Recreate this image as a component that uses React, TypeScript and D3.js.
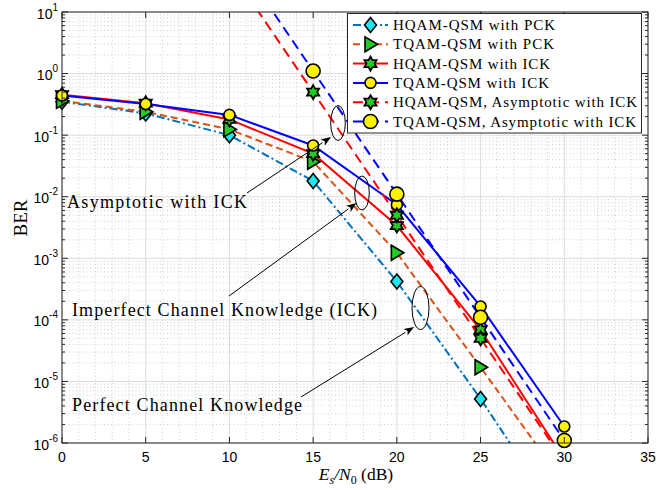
import React from 'react';
import * as d3 from 'd3';

// ---------- data ----------
const snrDb = [0, 5, 10, 15, 20, 25, 30];
const hqamPck = [0.35, 0.225, 0.1, 0.018, 4.2e-4, 5.2e-6, 4.7e-8];
const tqamPck = [0.36, 0.24, 0.124, 0.037, 1.23e-3, 1.7e-5, 2.2e-7];
const hqamIck = [0.455, 0.33, 0.18, 0.05, 3.4e-3, 6.9e-5, 5.4e-7];
const tqamIck = [0.44, 0.32, 0.213, 0.068, 7.4e-3, 1.65e-4, 1.85e-6];
const asymSnrDb = [10, 15, 20, 25, 30];
const hqamAsym = [50, 0.5, 5e-3, 5e-5, 5e-7];
const tqamAsym = [110, 1.1, 1.1e-2, 1.1e-4, 1.1e-6];

const xTicks = [0, 5, 10, 15, 20, 25, 30, 35];
const yExponents = [1, 0, -1, -2, -3, -4, -5, -6];
const legendLabels = [
  'HQAM-QSM with PCK',
  'TQAM-QSM with PCK',
  'HQAM-QSM with ICK',
  'TQAM-QSM with ICK',
  'HQAM-QSM, Asymptotic with ICK',
  'TQAM-QSM, Asymptotic with ICK',
];
const annotationLabels = [
  'Asymptotic with ICK',
  'Imperfect Channel Knowledge (ICK)',
  'Perfect Channel Knowledge',
];

// ---------- layout ----------
const W = 667;
const H = 490;
const PL = 62, PR = 648, PT = 12, PB = 443;
const CYAN = '#1ee6ef';
const GREEN = '#22cc22';
const YELLOW = '#fff200';
const AX = '#262626';
const SERIF = '"Liberation Serif", "Times New Roman", serif';
const SANS = '"Liberation Sans", Arial, Helvetica, sans-serif';

type MarkerType = 'diamond' | 'triR' | 'hex' | 'circle' | 'circleBig';

const series = [
  { xs: snrDb, ys: hqamPck, color: '#0072BD', dash: '8,3,2,3', marker: 'diamond' as MarkerType },
  { xs: snrDb, ys: tqamPck, color: '#D95319', dash: '7,4', marker: 'triR' as MarkerType },
  { xs: snrDb, ys: hqamIck, color: '#FF0000', dash: '', marker: 'hex' as MarkerType },
  { xs: snrDb, ys: tqamIck, color: '#0000FF', dash: '', marker: 'circle' as MarkerType },
  { xs: asymSnrDb, ys: hqamAsym, color: '#FF0000', dash: '10,6', marker: 'hex' as MarkerType },
  { xs: asymSnrDb, ys: tqamAsym, color: '#0000FF', dash: '10,6', marker: 'circleBig' as MarkerType },
];

function hexagramPath(cx: number, cy: number, R: number) {
  const pts: string[] = [];
  const r = R / Math.sqrt(3);
  for (let k = 0; k < 12; k++) {
    const a = -Math.PI / 2 + (k * Math.PI) / 6;
    const rr = k % 2 === 0 ? R : r;
    pts.push(`${cx + rr * Math.cos(a)},${cy + rr * Math.sin(a)}`);
  }
  return 'M' + pts.join('L') + 'Z';
}

function Marker({ type, cx, cy }: { type: MarkerType; cx: number; cy: number }) {
  const sw = 1.6;
  if (type === 'diamond') {
    return (
      <path
        d={`M${cx},${cy - 7.5}L${cx + 6},${cy}L${cx},${cy + 7.5}L${cx - 6},${cy}Z`}
        fill={CYAN}
        stroke="#000"
        strokeWidth={sw}
      />
    );
  }
  if (type === 'triR') {
    return (
      <path
        d={`M${cx + 7},${cy}L${cx - 5.5},${cy - 7.5}L${cx - 5.5},${cy + 7.5}Z`}
        fill={GREEN}
        stroke="#000"
        strokeWidth={sw}
        strokeLinejoin="miter"
      />
    );
  }
  if (type === 'hex') {
    return <path d={hexagramPath(cx, cy, 7)} fill={GREEN} stroke="#000" strokeWidth={1.8} />;
  }
  if (type === 'circle') {
    return <circle cx={cx} cy={cy} r={5.5} fill={YELLOW} stroke="#000" strokeWidth={sw} />;
  }
  return <circle cx={cx} cy={cy} r={7} fill={YELLOW} stroke="#000" strokeWidth={sw} />;
}

function Arrow({ x1, y1, x2, y2 }: { x1: number; y1: number; x2: number; y2: number }) {
  const dx = x2 - x1, dy = y2 - y1;
  const len = Math.hypot(dx, dy);
  const ux = dx / len, uy = dy / len;
  const hl = 10, hw = 3.8;
  const bx = x2 - ux * hl, by = y2 - uy * hl;
  const nx = -uy, ny = ux;
  return (
    <g>
      <line x1={x1} y1={y1} x2={bx} y2={by} stroke="#000" strokeWidth={1} />
      <path
        d={`M${x2},${y2}L${bx + nx * hw},${by + ny * hw}L${bx + ux * 2.5},${by + uy * 2.5}L${bx - nx * hw},${by - ny * hw}Z`}
        fill="#000"
      />
    </g>
  );
}

export default function App() {
  const x = d3.scaleLinear().domain([0, 35]).range([PL, PR]);
  const y = d3.scaleLog().domain([1e-6, 10]).range([PB, PT]);

  const line = (xs: number[], ys: number[]) =>
    d3
      .line<number>()
      .x((_, i) => x(xs[i]))
      .y((d) => y(d))(ys) || '';

  const minorX = d3.range(0, 36).filter((v) => v % 5 !== 0);
  const minorY: number[] = [];
  for (let e = -6; e < 1; e++) for (let m = 2; m <= 9; m++) minorY.push(m * Math.pow(10, e));

  const legendRowY = (i: number) => 25 + i * 19.3;

  return (
    <svg
      width={W}
      height={H}
      style={{ position: 'absolute', left: 0, top: 0, background: '#fff' }}
    >
      <defs>
        <clipPath id="plotClip">
          <rect x={PL} y={PT} width={PR - PL} height={PB - PT} />
        </clipPath>
      </defs>
      <rect x={0} y={0} width={W} height={H} fill="#fff" />

      {/* minor grid */}
      <g stroke="#c4c4c4" strokeWidth={0.8} strokeDasharray="1,2.5">
        {minorX.map((v) => (
          <line key={'mx' + v} x1={x(v)} x2={x(v)} y1={PT} y2={PB} />
        ))}
        {minorY.map((v, i) => (
          <line key={'my' + i} x1={PL} x2={PR} y1={y(v)} y2={y(v)} />
        ))}
      </g>
      {/* major grid */}
      <g stroke="#dcdcdc" strokeWidth={1}>
        {xTicks.map((v) => (
          <line key={'gx' + v} x1={x(v)} x2={x(v)} y1={PT} y2={PB} />
        ))}
        {yExponents.map((e) => (
          <line key={'gy' + e} x1={PL} x2={PR} y1={y(Math.pow(10, e))} y2={y(Math.pow(10, e))} />
        ))}
      </g>

      {/* series lines */}
      <g clipPath="url(#plotClip)" fill="none">
        {series.map((s, i) => (
          <path
            key={'l' + i}
            d={line(s.xs, s.ys)}
            stroke={s.color}
            strokeWidth={2}
            strokeDasharray={s.dash || undefined}
          />
        ))}
      </g>

      {/* markers */}
      <g>
        {series.map((s, i) =>
          s.xs.map((xv, j) => {
            const v = s.ys[j];
            if (v < 1e-6 * 0.999 || v > 10) return null;
            return <Marker key={`m${i}-${j}`} type={s.marker} cx={x(xv)} cy={y(v)} />;
          })
        )}
      </g>

      {/* axes box */}
      <rect x={PL} y={PT} width={PR - PL} height={PB - PT} fill="none" stroke={AX} strokeWidth={1} />
      {/* ticks */}
      <g stroke={AX} strokeWidth={1}>
        {xTicks.map((v) => (
          <g key={'tx' + v}>
            <line x1={x(v)} x2={x(v)} y1={PB} y2={PB - 6} />
            <line x1={x(v)} x2={x(v)} y1={PT} y2={PT + 6} />
          </g>
        ))}
        {yExponents.map((e) => (
          <g key={'ty' + e}>
            <line x1={PL} x2={PL + 6} y1={y(Math.pow(10, e))} y2={y(Math.pow(10, e))} />
            <line x1={PR} x2={PR - 6} y1={y(Math.pow(10, e))} y2={y(Math.pow(10, e))} />
          </g>
        ))}
        {minorY.map((v, i) => (
          <g key={'mty' + i}>
            <line x1={PL} x2={PL + 3} y1={y(v)} y2={y(v)} />
            <line x1={PR} x2={PR - 3} y1={y(v)} y2={y(v)} />
          </g>
        ))}
      </g>

      {/* tick labels */}
      <g fontFamily={SANS} fill="#000">
        {xTicks.map((v) => (
          <text key={'xl' + v} x={x(v)} y={PB + 19} fontSize={14} textAnchor="middle">
            {v}
          </text>
        ))}
        {yExponents.map((e) => (
          <text key={'yl' + e} x={PL - 4} y={y(Math.pow(10, e)) + 6.5} fontSize={14} textAnchor="end">
            10
            <tspan dy={-8} fontSize={10}>
              {e}
            </tspan>
          </text>
        ))}
      </g>

      {/* axis labels */}
      <text
        x={356}
        y={480}
        textAnchor="middle"
        fontFamily={SERIF}
        fontSize={17.5}
        fill="#000"
      >
        <tspan fontStyle="italic">E</tspan>
        <tspan fontStyle="italic" fontSize={12} dy={4}>s</tspan>
        <tspan fontStyle="italic" dy={-4}>/N</tspan>
        <tspan fontSize={12} dy={4}>0</tspan>
        <tspan dy={-4}> (dB)</tspan>
      </text>
      <text
        transform="translate(27,218) rotate(-90)"
        textAnchor="middle"
        fontFamily={SERIF}
        fontSize={19}
        fill="#000"
      >
        BER
      </text>

      {/* annotations */}
      <g fontFamily={SERIF} fontSize={18} fill="#000">
        <text x={67} y={208} textLength={180} lengthAdjust="spacing">
          {annotationLabels[0]}
        </text>
        <text x={72} y={316} textLength={305} lengthAdjust="spacing">
          {annotationLabels[1]}
        </text>
        <text x={72} y={411} textLength={230} lengthAdjust="spacing">
          {annotationLabels[2]}
        </text>
      </g>
      <g fill="none" stroke="#000" strokeWidth={1}>
        <ellipse cx={338} cy={123} rx={7.3} ry={17.5} />
        <ellipse cx={362} cy={193} rx={7.3} ry={17} />
        <ellipse cx={420.5} cy={308} rx={8.5} ry={21.5} />
      </g>
      <Arrow x1={247} y1={193} x2={331} y2={137} />
      <Arrow x1={229} y1={296} x2={356.5} y2={203} />
      <Arrow x1={301} y1={397} x2={414} y2={327} />

      {/* legend */}
      <g>
        <rect x={347.5} y={13.5} width={294} height={119.5} fill="#fff" stroke={AX} strokeWidth={1} />
        {series.map((s, i) => {
          const ly = legendRowY(i);
          return (
            <g key={'lg' + i}>
              <line
                x1={353}
                x2={388}
                y1={ly}
                y2={ly}
                stroke={s.color}
                strokeWidth={2}
                strokeDasharray={s.dash || undefined}
              />
              <Marker type={s.marker} cx={370.5} cy={ly} />
              <text
                x={393}
                y={ly + 5}
                fontFamily={SERIF}
                fontSize={15}
                fill="#000"
                textLength={[162, 161, 157, 156, 244, 243][i]}
                lengthAdjust="spacing"
              >
                {legendLabels[i]}
              </text>
            </g>
          );
        })}
      </g>
    </svg>
  );
}
